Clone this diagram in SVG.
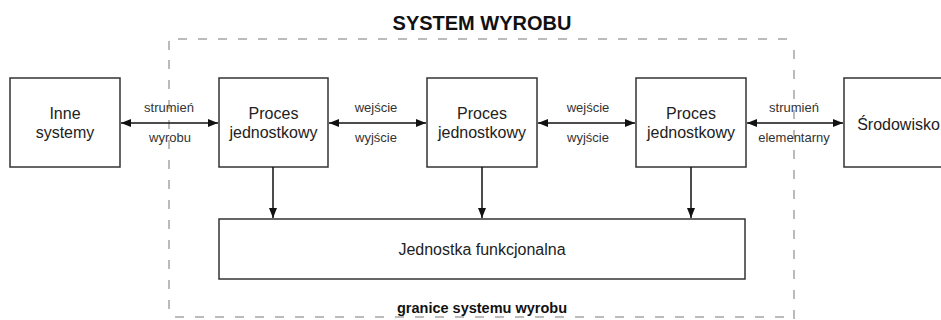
<svg xmlns="http://www.w3.org/2000/svg" width="941" height="320" viewBox="0 0 941 320">
<defs>
<marker id="ah" markerWidth="10" markerHeight="8" refX="10" refY="4" orient="auto-start-reverse" markerUnits="userSpaceOnUse">
<path d="M0,0 L10,4 L0,8 Z" fill="#111"/>
</marker>
<style>
.box{fill:#fff;stroke:#333;stroke-width:1.5}
.t{font-family:"Liberation Sans",Arial,sans-serif;font-size:16px;fill:#222;text-anchor:middle}
.lb{font-family:"Liberation Sans",Arial,sans-serif;font-size:13px;fill:#333;text-anchor:middle}
.b{font-family:"Liberation Sans",Arial,sans-serif;font-weight:bold;fill:#111;text-anchor:middle}
.c{stroke:#111;stroke-width:1.5;fill:none}
.d{stroke:#bbb;stroke-width:2;fill:none;stroke-dasharray:9 11}
</style>
</defs>
<rect width="941" height="320" fill="#fff"/>
<g id="boundary">
<path class="d" d="M169,50 L169,39 L792,39"/>
<path class="d" d="M794,50 L794,320"/>
<path class="d" d="M169,60 L169,310"/>
<path class="d" d="M175,317 L790,317" stroke="#ddd"/>
</g>
<text class="b" x="482" y="30" font-size="20">SYSTEM WYROBU</text>
<text class="b" x="482" y="313" font-size="14.5">granice systemu wyrobu</text>
<g id="inne">
<rect class="box" x="10" y="78" width="110" height="89"/>
<text class="t" x="65" y="119">Inne</text>
<text class="t" x="65" y="138">systemy</text>
</g>
<g id="proces1">
<rect class="box" x="219" y="78" width="109" height="89"/>
<text class="t" x="273.5" y="119">Proces</text>
<text class="t" x="273.5" y="138">jednostkowy</text>
</g>
<g id="proces2">
<rect class="box" x="427" y="78" width="110" height="89"/>
<text class="t" x="482" y="119">Proces</text>
<text class="t" x="482" y="138">jednostkowy</text>
</g>
<g id="proces3">
<rect class="box" x="636" y="78" width="110" height="89"/>
<text class="t" x="691" y="119">Proces</text>
<text class="t" x="691" y="138">jednostkowy</text>
</g>
<g id="srodowisko">
<rect class="box" x="844" y="78" width="120" height="89"/>
<text class="t" x="898.5" y="130">Środowisko</text>
</g>
<g id="jednostka">
<rect class="box" x="219" y="219" width="526" height="60"/>
<text class="t" x="482" y="255">Jednostka funkcjonalna</text>
</g>
<g id="connectors">
<line class="c" x1="121" y1="123" x2="218" y2="123" marker-start="url(#ah)" marker-end="url(#ah)"/>
<line class="c" x1="329" y1="123" x2="426" y2="123" marker-start="url(#ah)" marker-end="url(#ah)"/>
<line class="c" x1="538" y1="123" x2="635" y2="123" marker-start="url(#ah)" marker-end="url(#ah)"/>
<line class="c" x1="747" y1="123" x2="843" y2="123" marker-start="url(#ah)" marker-end="url(#ah)"/>
<line class="c" x1="273" y1="167" x2="273" y2="218" marker-end="url(#ah)"/>
<line class="c" x1="482" y1="167" x2="482" y2="218" marker-end="url(#ah)"/>
<line class="c" x1="691" y1="167" x2="691" y2="218" marker-end="url(#ah)"/>
<text class="lb" x="169" y="112">strumień</text>
<text class="lb" x="170" y="142">wyrobu</text>
<text class="lb" x="376" y="112">wejście</text>
<text class="lb" x="376" y="142">wyjście</text>
<text class="lb" x="588" y="112">wejście</text>
<text class="lb" x="588" y="142">wyjście</text>
<text class="lb" x="794" y="112">strumień</text>
<text class="lb" x="794" y="142">elementarny</text>
</g>
</svg>
